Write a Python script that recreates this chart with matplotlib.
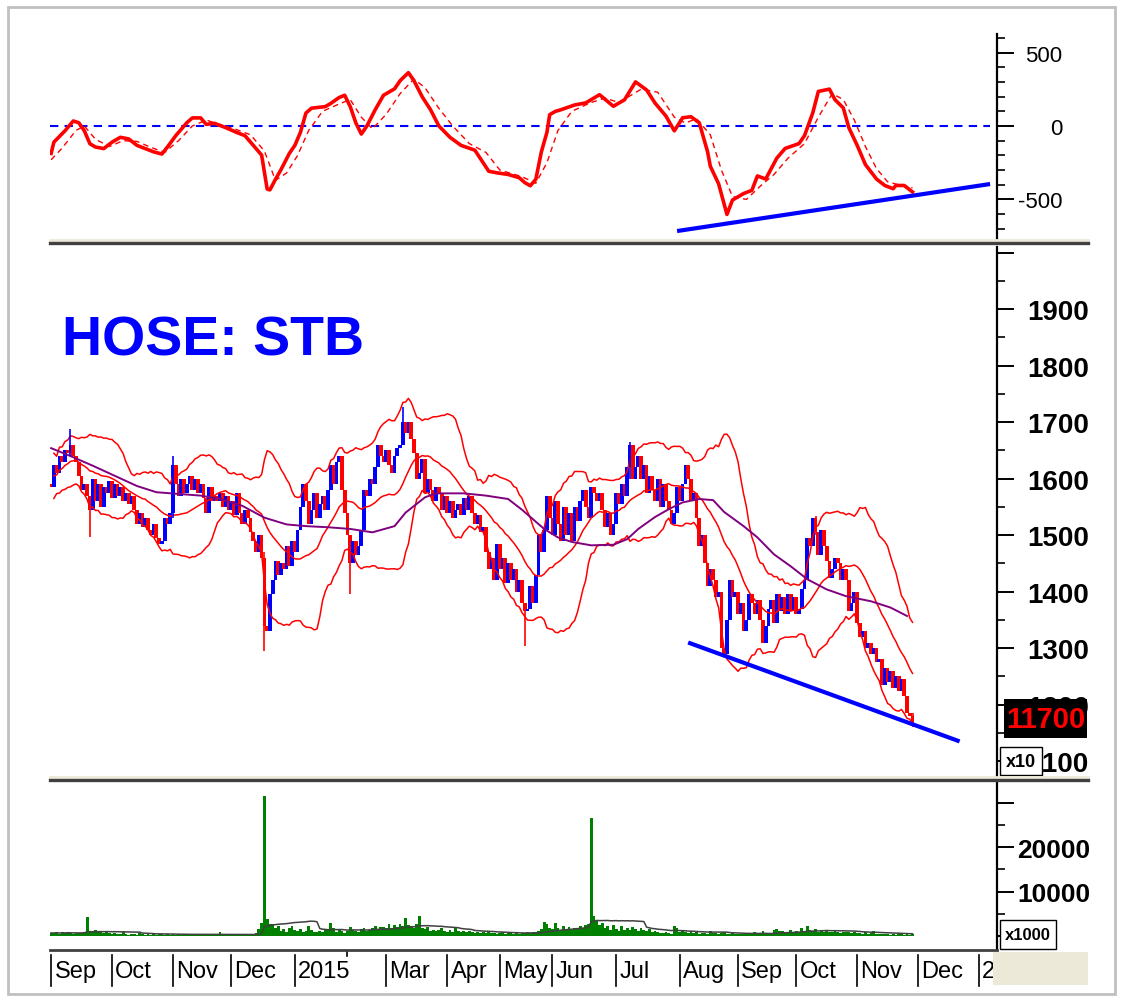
import numpy as np
import pandas as pd
import matplotlib
matplotlib.use('Agg')
import matplotlib.pyplot as plt
from matplotlib.lines import Line2D
from matplotlib.patches import Rectangle

plt.rcParams['font.family'] = ['Liberation Sans', 'DejaVu Sans']

# ---------------- data (price in x10 units, one value per trading day) ----------------
closes = [
    1585, 1625, 1610, 1640, 1630, 1650, 1645, 1660, 1640, 1630,
    1605, 1580, 1590, 1570, 1545, 1600, 1560, 1590, 1550, 1585,
    1575, 1595, 1565, 1590, 1570, 1585, 1560, 1575, 1555, 1570,
    1545, 1520, 1540, 1515, 1530, 1510, 1500, 1520, 1495, 1485,
    1490, 1530, 1520, 1540, 1625, 1590, 1570, 1600, 1575, 1590,
    1605, 1580, 1600, 1575, 1590, 1565, 1540, 1585, 1560, 1570,
    1560, 1575, 1550, 1570, 1545, 1560, 1535, 1575, 1540, 1520,
    1545, 1530, 1505, 1490, 1470, 1500, 1460, 1340, 1330, 1395,
    1420, 1455, 1430, 1450, 1440, 1480, 1445, 1490, 1470, 1510,
    1550, 1590, 1560, 1520, 1545, 1575, 1530, 1555, 1570, 1545,
    1580, 1625, 1590, 1630, 1640, 1580, 1540, 1500, 1450, 1490,
    1465, 1480, 1510, 1580, 1570, 1600, 1590, 1620, 1660, 1640,
    1630, 1650, 1625, 1610, 1640, 1655, 1660, 1700, 1680, 1700,
    1670, 1645, 1600, 1610, 1635, 1575, 1600, 1580, 1560, 1585,
    1575, 1545, 1570, 1540, 1560, 1530, 1545, 1555, 1535, 1565,
    1545, 1570, 1540, 1520, 1535, 1505, 1515, 1470, 1440, 1460,
    1420, 1485, 1440, 1460, 1415, 1450, 1420, 1440, 1400, 1420,
    1380, 1365, 1370, 1410, 1380, 1430, 1500, 1470, 1510, 1570,
    1530, 1500, 1560, 1520, 1490, 1550, 1500, 1540, 1490, 1550,
    1525, 1560, 1580, 1550, 1530, 1585, 1575, 1560, 1575, 1545,
    1515, 1540, 1500, 1520, 1575, 1555, 1590, 1570, 1620, 1660,
    1600, 1620, 1640, 1600, 1625, 1575, 1605, 1580, 1560, 1600,
    1550, 1590, 1560, 1545, 1520, 1540, 1585, 1560, 1590, 1625,
    1600, 1560, 1575, 1530, 1480, 1500, 1450, 1410, 1440, 1420,
    1390, 1400, 1300, 1290, 1350, 1420, 1390, 1400, 1360, 1380,
    1330, 1350, 1395, 1380, 1360, 1385, 1350, 1310, 1340, 1370,
    1385, 1345, 1395, 1365, 1390, 1360, 1395, 1365, 1390, 1360,
    1370, 1405, 1420, 1495, 1480, 1530, 1505, 1465, 1510, 1480,
    1455, 1425, 1440, 1460, 1450, 1420, 1440, 1420, 1365, 1380,
    1400, 1345, 1320, 1330, 1300, 1310, 1290, 1300, 1275, 1280,
    1235, 1265, 1240, 1260, 1230, 1250, 1225, 1245, 1215, 1185, 1180, 1170,
]
first_open = 1590

# long shadows that stand out
wick_idx = [7, 14, 44, 77, 108, 127, 171, 209, 243, 276, 311]
wick_lo = [1640, 1496, 1530, 1295, 1395, 1660, 1304, 1600, 1285, 1500, 1160]
wick_hi = [1688, 1570, 1640, 1470, 1500, 1726, 1380, 1665, 1300, 1534, 1185]

volume = [
    700, 600, 900, 500, 800, 600, 1000, 700, 500, 600,
    600, 700, 900, 4300, 1200, 800, 1300, 900, 1100, 700,
    900, 600, 500, 700, 400, 500, 800, 400, 300, 500,
    400, 300, 600, 400, 300, 500, 300, 400, 300, 500,
    400, 300, 500, 300, 400, 300, 500, 300, 400, 300,
    300, 400, 300, 300, 500, 300, 400, 300, 300, 400,
    300, 900, 400, 300, 200, 300, 200, 300, 200, 300,
    300, 200, 400, 300, 600, 1500, 3000, 31500, 3800, 2600,
    2800, 1800, 2200, 1200, 1500, 900, 1900, 2300, 1400, 1200,
    1500, 900, 1100, 2200, 1300, 1000, 800, 1200, 900, 1400,
    1600, 2900, 1800, 900, 1500, 1200, 700, 1100, 2000, 1300,
    1200, 1000, 1500, 1900, 1100, 1300, 1800, 2200, 1600, 2000,
    2100, 1800, 2800, 1700, 2400, 2000, 2600, 2200, 4100, 2500,
    2300, 1800, 2600, 4600, 1700, 1500, 2000, 1200, 1400, 1100,
    1300, 1800, 1100, 900, 1400, 1000, 1700, 1200, 800, 1100,
    900, 1200, 800, 700, 1000, 600, 900, 700, 800, 600,
    700, 500, 600, 800, 500, 600, 700, 500, 600, 500,
    700, 600, 900, 700, 800, 1000, 1100, 1500, 3200, 2800,
    1900, 1500, 3000, 1800, 1400, 2200, 1600, 2000, 1300, 1900,
    1600, 2300, 1800, 2400, 2600, 26500, 4500, 3600, 2400, 2900,
    1800, 2200, 1400, 2500, 1600, 1200, 2200, 1400, 1700, 1300,
    2000, 1500, 1200, 1800, 1300, 1100, 1500, 900, 1200, 800,
    700, 600, 800, 700, 500, 2300, 1700, 800, 1100, 900,
    700, 1200, 600, 900, 500, 700, 600, 500, 1100, 600,
    700, 500, 600, 900, 400, 500, 600, 400, 500, 400,
    500, 400, 600, 400, 1000, 500, 400, 1200, 500, 400,
    600, 1300, 1500, 1100, 1200, 1000, 800, 1400, 900, 1100,
    1000, 1900, 1200, 2200, 1300, 1100, 1500, 900, 1200, 1000,
    1100, 800, 1000, 1300, 900, 700, 1000, 800, 900, 700,
    800, 600, 700, 500, 900, 500, 600, 1200, 500, 400,
    500, 400, 500, 300, 400, 300, 500, 400, 300, 400, 300, 400,
]

# long moving average (purple)
ma_bar = [0, 7, 15, 23, 31, 38, 46, 54, 61, 69, 77, 85, 92, 100, 108, 116, 124,
          128, 135, 139, 149, 157, 165, 170, 178, 183, 188, 195, 203, 208, 212,
          218, 223, 228, 234, 239, 243, 250, 255, 261, 267, 273, 280, 287, 296,
          303, 309]
ma_val = [1654, 1640, 1623, 1605, 1587, 1576, 1573, 1570, 1564, 1552, 1531, 1519,
          1516, 1514, 1511, 1505, 1516, 1540, 1567, 1574, 1574, 1570, 1564, 1545,
          1511, 1496, 1488, 1482, 1483, 1493, 1511, 1532, 1546, 1558, 1564, 1562,
          1541, 1516, 1496, 1466, 1445, 1422, 1404, 1392, 1383, 1372, 1357]

# oscillator (top panel)
osc_bar = [0, 1, 5, 8, 10, 12, 14, 16, 19, 22, 25, 28, 31, 34, 37, 40, 42, 45, 49, 51,
           54, 56, 59, 63, 67, 70, 73, 76, 78, 79, 81, 83, 86, 88, 90, 92, 94, 99, 101, 104,
           106, 108, 110, 112, 114, 117, 120, 124, 126, 129, 131, 134, 137, 140, 144, 148,
           153, 158, 161, 165, 169, 171, 173, 175, 177, 179, 180, 182, 184, 189, 193, 198,
           203, 207, 211, 215, 218, 222, 225, 228, 231, 234, 237, 238, 241, 244, 246, 250,
           253, 255, 258, 262, 265, 270, 272, 275, 277, 281, 283, 286, 288, 291, 294, 298,
           301, 304, 305, 308, 311]
osc_val = [-187, -110, -33, 34, 22, -33, -121, -143, -154, -110, -77, -88, -132, -154,
           -176, -191, -143, -66, 22, 55, 55, 11, 18, -11, -44, -66, -132, -198, -429,
           -435, -363, -297, -187, -132, -44, 88, 121, 132, 154, 194, 209, 132, 22, -55,
           0, 110, 209, 253, 308, 363, 308, 198, 110, 0, -77, -132, -165, -308, -319,
           -330, -352, -385, -407, -363, -176, -44, 77, 99, 110, 143, 157, 213, 134, 178,
           300, 245, 157, 67, -33, 56, 63, 22, -175, -274, -394, -602, -504, -460, -438,
           -340, -361, -219, -153, -120, -66, 90, 235, 251, 179, 123, -11, -131, -263,
           -361, -405, -427, -405, -405, -449]
sig_bar = [0, 4, 9, 12, 16, 21, 26, 31, 36, 41, 46, 51, 56, 61, 67, 72, 77, 81, 85, 89,
           93, 98, 104, 108, 112, 116, 121, 126, 131, 135, 140, 145, 151, 157, 162, 170,
           175, 179, 183, 188, 195, 200, 205, 213, 219, 225, 229, 233, 238, 242, 246, 251,
           256, 261, 266, 272, 277, 282, 286, 290, 294, 298, 302, 306, 311]
sig_val = [-230, -150, -30, 0, -90, -140, -100, -105, -145, -180, -100, 0, 40, 10, -25,
           -60, -170, -370, -320, -200, -30, 100, 150, 180, 60, -20, 80, 220, 320, 260,
           120, 0, -120, -180, -300, -345, -390, -250, -30, 100, 160, 190, 160, 250, 230,
           60, 20, 50, -60, -300, -480, -500, -410, -330, -220, -120, 60, 220, 180, 40,
           -140, -290, -380, -400, -420]

# hand drawn trend lines
osc_trend_bar = [226, 339]
osc_trend_val = [-715, -395]
px_trend_bar = [230, 328]
px_trend_val = [1310, 1135]

month_pos = [0, 22, 44, 65, 88, 121, 143, 162, 181, 204, 227, 248, 269, 291, 313, 335]
month_lab = ['Sep', 'Oct', 'Nov', 'Dec', '2015', 'Mar', 'Apr', 'May', 'Jun', 'Jul',
             'Aug', 'Sep', 'Oct', 'Nov', 'Dec', '2016']
feb_pos = 107

# ---------------- figure ----------------
W, H = 1123, 1003
fig = plt.figure(figsize=(W / 100, H / 100), dpi=100)
fig.patch.set_facecolor('white')


def px_axes(x0, y0, x1, y1):
    return fig.add_axes([x0 / W, 1 - y1 / H, (x1 - x0) / W, (y1 - y0) / H])


def fig_line(x0, y0, x1, y1, **kw):
    fig.add_artist(Line2D([x0 / W, x1 / W], [1 - y0 / H, 1 - y1 / H],
                          transform=fig.transFigure, **kw))


def fig_rect(x0, y0, x1, y1, **kw):
    r = Rectangle((x0 / W, 1 - y1 / H), (x1 - x0) / W, (y1 - y0) / H,
                  transform=fig.transFigure, **kw)
    fig.add_artist(r)
    return r


ax_osc = px_axes(50, 35, 997, 241)
ax_px = px_axes(50, 248, 997, 778)
ax_vol = px_axes(50, 784, 997, 951)
ax_date = px_axes(50, 951, 997, 988)

XMIN, XMAX = -0.4, 341.5


def style(ax, pad, size, weight):
    for s in ['left', 'top', 'bottom']:
        ax.spines[s].set_visible(False)
    ax.spines['right'].set_linewidth(1.6)
    ax.set_xlim(XMIN, XMAX)
    ax.set_xticks([])
    ax.yaxis.tick_right()
    ax.tick_params(axis='y', which='major', length=12, width=1.4, pad=pad,
                   labelsize=size, colors='black')
    ax.tick_params(axis='y', which='minor', length=6, width=1.2)
    for lab in ax.get_yticklabels():
        lab.set_horizontalalignment('right')
        lab.set_fontweight(weight)
    ax.set_facecolor('white')


# ---- oscillator panel ----
ax_osc.set_ylim(-776, 626)
ax_osc.set_yticks([-500, 0, 500], ['-500', '0', '500'])
ax_osc.set_yticks(np.arange(-700, 601, 100), minor=True)
style(ax_osc, 35, 16, 'normal')
ax_osc.plot([XMIN, 339], [0, 0], color='#0000ff', lw=1.5, ls=(0, (4, 3)))
ax_osc.plot(sig_bar, sig_val, color='#ff0000', lw=1.0, ls=(0, (4, 3)))
ax_osc.plot(osc_bar, osc_val, color='#ff0000', lw=2.6)
ax_osc.plot(osc_trend_bar, osc_trend_val, color='#0000ff', lw=3.0,
            solid_capstyle='butt')

# ---- price panel ----
n = len(closes)
idx = np.arange(n)
c = np.array(closes, dtype=float)
o = np.concatenate([[first_open], c[:-1]])
up = c >= o
body_lo = np.minimum(o, c)
body_h = np.maximum(np.abs(c - o), 2)
ax_px.set_ylim(1072, 2010)
ax_px.set_yticks(np.arange(1100, 2001, 100),
                 [str(v) for v in range(1100, 2000, 100)] + [''])
ax_px.set_yticks(np.arange(1100, 2001, 50), minor=True)
style(ax_px, 54, 20, 'bold')

s = pd.Series(c)
mid = s.rolling(20, min_periods=2).mean()
sd = s.rolling(20, min_periods=2).std(ddof=0)
for band in (mid + 2 * sd, mid, mid - 2 * sd):
    ax_px.plot(idx, band, color='#ff0000', lw=1.1)
ax_px.plot(ma_bar, ma_val, color='#800080', lw=1.4)

wcol = ['#0000ff' if up[i] else '#ff0000' for i in wick_idx]
ax_px.vlines(wick_idx, wick_lo, wick_hi, colors=wcol, lw=1.2)
ax_px.bar(idx, body_h, bottom=body_lo, width=1.35,
          color=np.where(up, '#0000ff', '#ff0000'), linewidth=0)
ax_px.plot(px_trend_bar, px_trend_val, color='#0000ff', lw=3.0,
           solid_capstyle='butt')
ax_px.text(0.0127, 0.798, 'HOSE: STB', transform=ax_px.transAxes,
           fontsize=40, fontweight='bold', color='#0000ff', va='baseline')

# ---- volume panel ----
ax_vol.set_ylim(-3150, 34400)
ax_vol.set_yticks([0, 10000, 20000, 30000], ['', '10000', '20000', ''])
ax_vol.set_yticks(np.arange(0, 30001, 5000), minor=True)
style(ax_vol, 55, 19, 'bold')
v = np.array(volume, dtype=float)
ax_vol.bar(np.arange(len(v)), v, width=1.0, color='#008000', linewidth=0)
ax_vol.plot(np.arange(len(v)), pd.Series(v).rolling(20, min_periods=1).mean(),
            color='#404040', lw=1.1)

# ---- date row ----
ax_date.set_xlim(XMIN, XMAX)
ax_date.set_ylim(0, 1)
ax_date.axis('off')
for p, lab in zip(month_pos, month_lab):
    ax_date.plot([p, p], [0.03, 0.86], color='black', lw=1.2, clip_on=True)
    ax_date.text(p + 1.2, 0.42, lab, fontsize=17, va='center', ha='left',
                 clip_on=True)
ax_date.plot([feb_pos, feb_pos], [0.85, 1.0], color='black', lw=1.2)

# ---- frame decorations ----
fig_rect(8, 8, 1115, 995, fill=False, ec='#c0c0c0', lw=2)
for y in (243, 780):
    fig_line(50, y - 2, 1088, y - 2, color='#ece9d8', lw=2)
    fig_line(50, y + 1, 1088, y + 1, color='#404040', lw=2.4)
fig_line(50, 951, 997, 951, color='#404040', lw=2)
fig_rect(993, 953, 1088, 986, fc='#ece9d8', ec='none')

# last price tag and unit boxes
fig_rect(1004, 700, 1087, 739, fc='black', ec='none')
fig.text(1046 / W, 1 - 720 / H, '11700', color='#ff0000', fontsize=21,
         fontweight='bold', ha='center', va='center')
fig_rect(1000, 748, 1042, 776, fc='white', ec='black', lw=1)
fig.text(1021 / W, 1 - 763 / H, 'x10', color='black', fontsize=13,
         fontweight='bold', ha='center', va='center')
fig_rect(1000, 921, 1056, 950, fc='white', ec='black', lw=1)
fig.text(1028 / W, 1 - 936 / H, 'x1000', color='black', fontsize=12,
         fontweight='bold', ha='center', va='center')

fig.savefig('out.png', dpi=100)
